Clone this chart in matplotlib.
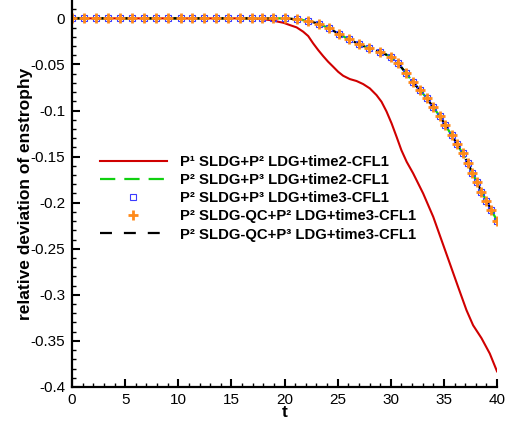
import matplotlib
matplotlib.use("Agg")
import matplotlib.pyplot as plt
from matplotlib.ticker import MultipleLocator, FixedLocator

plt.rcParams['font.family'] = ['Liberation Sans', 'DejaVu Sans']
plt.rcParams['lines.scale_dashes'] = False

# ---- data ----
t_p1 = [0, 16.0, 17.5, 18.6, 19.9, 20.5, 21.14, 21.76, 22.23, 22.7, 23.17, 23.64, 24.1,
        24.58, 25.05, 25.52, 26.15, 26.78, 27.4, 28.03, 28.66, 29.13, 29.6, 30.08, 30.55,
        31.0, 31.5, 32.1, 33.05, 34.0, 34.78, 35.56, 36.34, 37.13, 37.75, 38.54, 39.32, 40.0]
e_p1 = [0, 0, -0.0005, -0.0018, -0.0048, -0.0073, -0.0098, -0.0145, -0.0192, -0.0272,
        -0.0344, -0.041, -0.047, -0.0525, -0.058, -0.0623, -0.0659, -0.068, -0.0713,
        -0.076, -0.0833, -0.0905, -0.101, -0.114, -0.1286, -0.143, -0.1557, -0.168,
        -0.190, -0.2154, -0.2407, -0.266, -0.2914, -0.3167, -0.333, -0.347, -0.3637, -0.383]

t_p2 = [0, 1.13, 2.23, 3.41, 4.52, 5.62, 6.77, 7.90, 9.06, 10.23, 11.29, 12.42, 13.55,
        14.70, 15.80, 16.91, 17.87, 18.96, 20.08, 21.14, 22.23, 23.26, 24.21, 25.12,
        26.06, 27.00, 27.97, 28.97, 29.98, 30.70, 31.42, 32.05, 32.74, 33.42, 33.96,
        34.62, 35.14, 35.72, 36.25, 36.76, 37.25, 37.68, 38.10, 38.54, 39.01, 39.48, 40.0]
e_p2 = [0, 0, 0, 0, 0, 0, 0, 0, 0, 0, 0, 0, 0,
        0, 0, 0, 0, 0, 0, -0.0011, -0.0026, -0.0062, -0.0108, -0.0170,
        -0.0228, -0.0279, -0.0326, -0.0363, -0.0415, -0.0489, -0.0591, -0.0688, -0.0779,
        -0.0868, -0.0960, -0.1061, -0.1158, -0.1267, -0.1365, -0.1466, -0.1571, -0.1677,
        -0.1775, -0.1881, -0.1980, -0.2082, -0.2195]

labels = ['P\u00b9 SLDG+P\u00b2 LDG+time2-CFL1',
          'P\u00b2 SLDG+P\u00b3 LDG+time2-CFL1',
          'P\u00b2 SLDG+P\u00b3 LDG+time3-CFL1',
          'P\u00b2 SLDG-QC+P\u00b2 LDG+time3-CFL1',
          'P\u00b2 SLDG-QC+P\u00b3 LDG+time3-CFL1']

fig = plt.figure(figsize=(5.06, 4.26), dpi=100)
ax = fig.add_axes([72/506, 39/426, 425/506, 387/426])

l1, = ax.plot(t_p1, e_p1, color='#d00000', lw=1.5, label=labels[0])
l2, = ax.plot(t_p2, e_p2, color='#10d010', lw=1.6, dashes=(11, 6.5), label=labels[1])
l5, = ax.plot(t_p2, e_p2, color='black', lw=1.6, dashes=(8.6, 8.6), label=labels[4])
l3, = ax.plot(t_p2, e_p2, ls='none', marker='s', ms=5, mfc='none', mec='#3a3aff',
              mew=0.8, label=labels[2])
l4, = ax.plot(t_p2, e_p2, ls='none', marker='+', ms=6.5, mec='#ff8a1a',
              mew=2.0, label=labels[3])

ax.set_xlim(0, 40)
ax.set_ylim(-0.4, 0.0199)
ax.xaxis.set_major_locator(MultipleLocator(5))
ax.xaxis.set_minor_locator(MultipleLocator(1))
ax.yaxis.set_major_locator(FixedLocator([-0.4, -0.35, -0.3, -0.25, -0.2, -0.15, -0.1, -0.05, 0]))
ax.yaxis.set_minor_locator(MultipleLocator(0.01))
ax.set_yticklabels(['-0.4', '-0.35', '-0.3', '-0.25', '-0.2', '-0.15', '-0.1', '-0.05', '0'])

for s in ['top', 'right']:
    ax.spines[s].set_visible(False)
for s in ['left', 'bottom']:
    ax.spines[s].set_linewidth(1.6)

ax.tick_params(which='major', direction='in', length=6, width=1.5, labelsize=11, pad=4)
ax.tick_params(which='minor', direction='in', length=3, width=1.0)
ax.tick_params(axis='y', which='major', pad=5)

ax.set_xlabel('t', fontsize=12.5, fontweight='bold', labelpad=-1)
ax.set_ylabel('relative deviation of enstrophy', fontsize=12.5, fontweight='bold', labelpad=-2)

leg = ax.legend(handles=[l1, l2, l3, l4, l5], loc='upper left',
                bbox_to_anchor=(28/425, (387 - 155)/387), frameon=False,
                prop={'size': 10.7, 'weight': 'bold'}, handlelength=4.5, handletextpad=0.87,
                labelspacing=0.28, borderaxespad=0, borderpad=0)

fig.savefig('out.png', dpi=100)
